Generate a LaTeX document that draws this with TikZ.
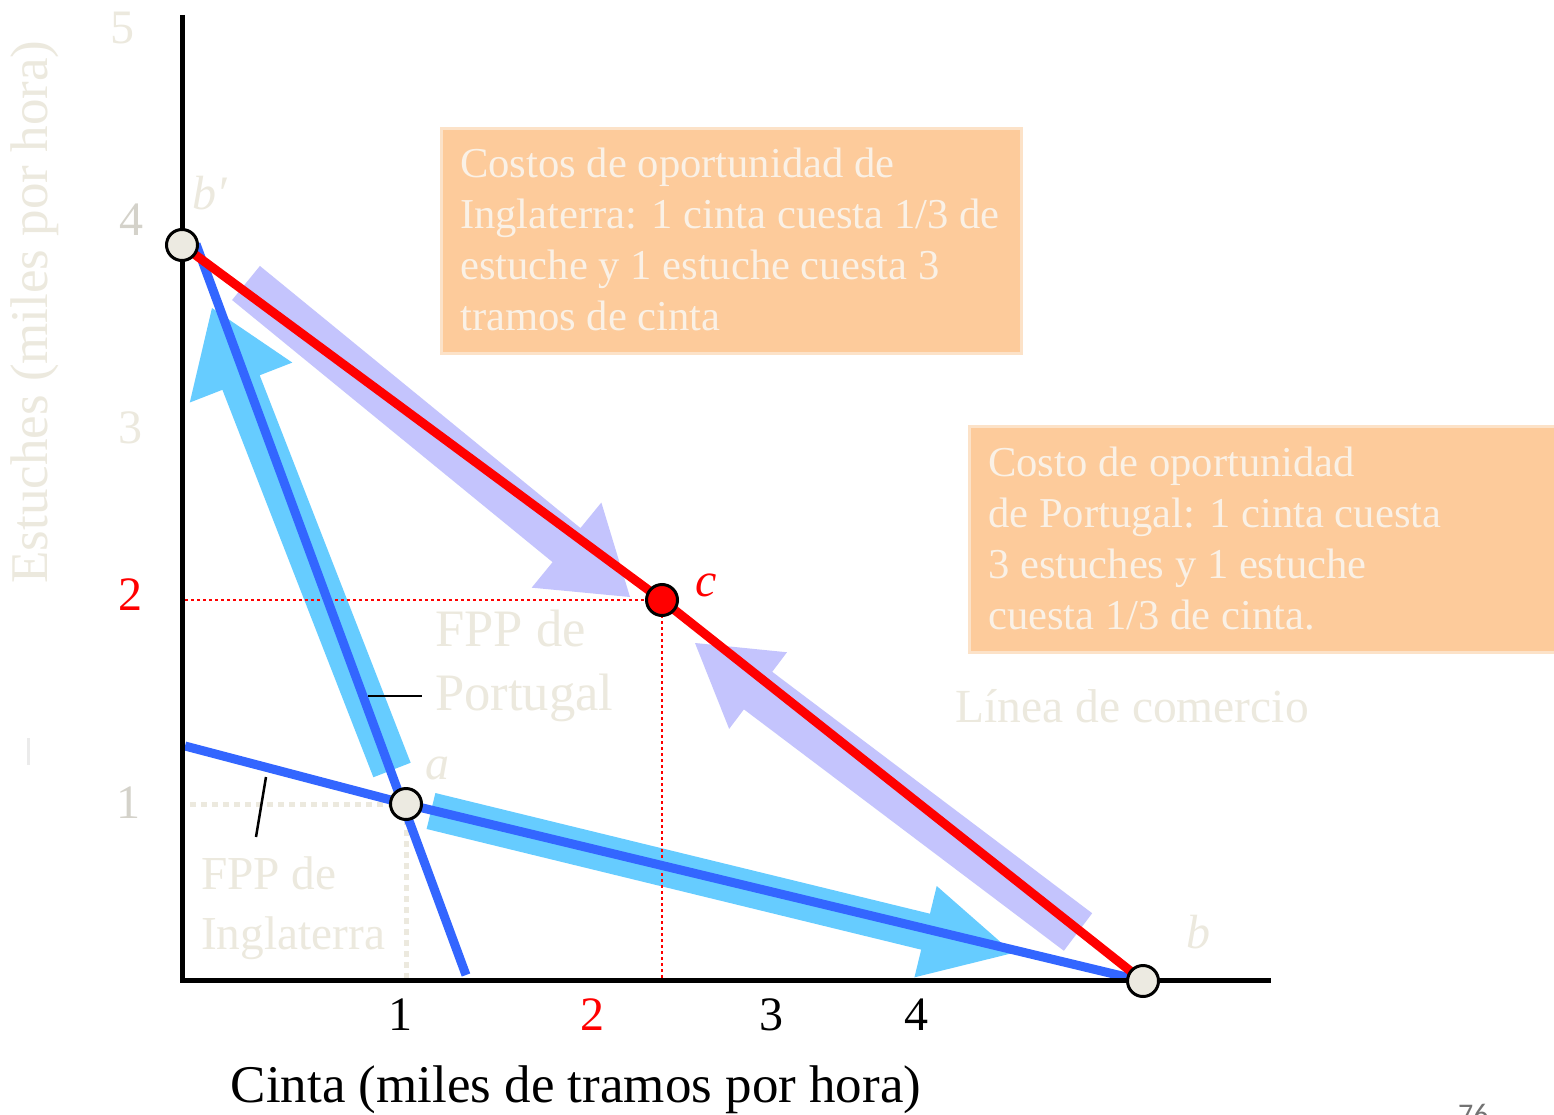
\documentclass[tikz,border=0pt]{standalone}
\usepackage{fontspec}
\setmainfont{Liberation Serif}
\newfontfamily\pagenumfont{Carlito}
\usetikzlibrary{calc}
\definecolor{beigetxt}{RGB}{236,233,222}
\definecolor{lbluearrow}{RGB}{102,204,255}
\definecolor{lavarrow}{RGB}{196,196,253}
\definecolor{fppblue}{RGB}{51,102,255}
\definecolor{peach}{RGB}{253,203,155}
\definecolor{peachedge}{RGB}{252,226,200}
\definecolor{boxtxt}{RGB}{250,241,230}
\definecolor{ptfill}{RGB}{236,234,225}
\definecolor{outlinegray}{RGB}{212,210,202}
\newcommand\fatarrowdraw[7]{% name, colour, tail, tip, half shaft, half head, head length
  \coordinate (#1B) at ($(#4)!#7!(#3)$);
  \fill[#2] ($(#3)!#5!90:(#4)$) -- ($(#1B)!#5!90:(#4)$) -- ($(#1B)!#6!90:(#4)$) -- (#4)
    -- ($(#1B)!#6!-90:(#4)$) -- ($(#1B)!#5!-90:(#4)$) -- ($(#3)!#5!-90:(#4)$) -- cycle;
}
\begin{document}
\begin{tikzpicture}[x=1pt,y=-1pt,
  axisline/.style={line width=5pt, black},
  fppline/.style={line width=9pt, fppblue},
  tradeline/.style={line width=9pt, red},
  pt/.style={circle, draw=black, line width=3pt, fill=ptfill, minimum size=31pt, inner sep=0pt},
  ptred/.style={pt, fill=red},
  reddot/.style={red, line width=2.5pt, dash pattern=on 2.5pt off 3.5pt},
  beigedot/.style={beigetxt, line width=5pt, dash pattern=on 6pt off 5pt},
  leader/.style={black, line width=2.5pt},
  costbox/.style={fill=peach, draw=peachedge, line width=3pt, inner sep=0pt, anchor=north west},
  boxtext/.style={text=boxtxt, font=\fontsize{42.6}{51}\selectfont, align=left, inner sep=0pt, anchor=north west},
  lbl/.style={text=beigetxt, inner sep=0pt},
  numfont/.style={font=\fontsize{48}{48}\selectfont, inner sep=0pt},
  letfont/.style={font=\fontsize{48}{48}\selectfont\itshape, inner sep=0pt}
]
\useasboundingbox (0,0) rectangle (1554,1115);
\fill[white] (0,0) rectangle (1554,1115);

% key coordinates
\coordinate (Pbp) at (182,245);
\coordinate (Pa) at (406,804);
\coordinate (Pb) at (1143,981);
\coordinate (Pc) at (662,600);
\coordinate (portTop) at (196,244);
\coordinate (portBot) at (466,975);
\coordinate (engLeft) at (185,746);
\coordinate (yTop) at (182,15);
\coordinate (yBot) at (182,983);
\coordinate (xLeft) at (180,980);
\coordinate (xRight) at (1271,980);

% cost boxes
\node[costbox, minimum width=580pt, minimum height=225pt] (box1) at (440,127) {};
\node[costbox, minimum width=590pt, minimum height=226pt] (box2) at (968,425) {};
\node[boxtext] (box1txt) at (460,148) {Costos de oportunidad de\\Inglaterra: 1 cinta cuesta 1/3 de\\estuche y 1 estuche cuesta 3\\tramos de cinta};
\node[boxtext] (box2txt) at (988,447) {Costo de oportunidad\\de Portugal: 1 cinta cuesta\\3 estuches y 1 estuche\\cuesta 1/3 de cinta.};

% fat arrows
\coordinate (A1t) at (392,770); \coordinate (A1h) at (212,308);
\coordinate (A2t) at (431,811); \coordinate (A2h) at (1013,953);
\coordinate (A3t) at (246,283); \coordinate (A3h) at (630,597);
\coordinate (A4t) at (1078,932); \coordinate (A4h) at (695,643);
\fatarrowdraw{arA}{lbluearrow}{A1t}{A1h}{20pt}{55pt}{80pt}
\fatarrowdraw{arB}{lbluearrow}{A2t}{A2h}{18.5pt}{47pt}{90pt}
\fatarrowdraw{arC}{lavarrow}{A3t}{A3h}{22pt}{55pt}{82pt}
\fatarrowdraw{arD}{lavarrow}{A4t}{A4h}{23.5pt}{48pt}{79pt}

% dotted guides
\coordinate (rdL) at (185,600); \coordinate (rdB) at (662,978);
\coordinate (bdL) at (190,804); \coordinate (bdB) at (406,978);
\draw[beigedot] (bdL) -- (Pa) -- (bdB);
\draw[reddot] (rdL) -- (Pc) -- (rdB);

% PPF and trade lines
\draw[fppline] (portTop) -- (portBot);
\draw[fppline] (engLeft) -- (Pa) -- (Pb);
\draw[tradeline] (Pbp) -- (Pc) -- (Pb);

% axes
\draw[axisline] (yTop) -- (yBot);
\draw[axisline] (xLeft) -- (xRight);

% points
\node[pt] (bp) at (Pbp) {};
\node[pt] (a) at (Pa) {};
\node[pt] (b) at (Pb) {};
\node[ptred] (c) at (Pc) {};

% leaders
\coordinate (ldP1) at (368,696); \coordinate (ldP2) at (422,696);
\coordinate (ldI1) at (266,777); \coordinate (ldI2) at (256,837);
\draw[leader] (ldP1) -- (ldP2);
\draw[leader] (ldI1) -- (ldI2);

% axis numbers
\node[lbl, numfont] (n5) at (122,28) {5};
\node[numfont, text=outlinegray] (n4) at (131,220) {4};
\node[lbl, numfont] (n3) at (130,428) {3};
\node[numfont, text=red] (n2) at (130,595) {2};
\node[numfont, text=outlinegray] (n1) at (128,803) {1};
\node[numfont] (t1) at (400,1015) {1};
\node[numfont, text=red] (t2) at (592,1015) {2};
\node[numfont] (t3) at (771,1015) {3};
\node[numfont] (t4) at (916,1015) {4};

% axis titles
\node[lbl, rotate=90, font=\fontsize{53}{53}\selectfont] (ylab) at (35,312) {Estuches (miles por hora)};
\node[font=\fontsize{53}{53}\selectfont, anchor=base, inner sep=0pt] (xlab) at (576,1102) {Cinta (miles de tramos por hora)};

% point letters
\node[lbl, letfont] (lbp) at (210,193) {b′};
\node[lbl, letfont] (la) at (437,768) {a};
\node[lbl, letfont] (lb) at (1198,932) {b};
\node[letfont, text=red] (lc) at (706,585) {c};

% curve labels
\node[lbl, font=\fontsize{52.6}{64}\selectfont, align=left, anchor=north west] (fppP) at (435,610) {FPP de\\Portugal};
\node[lbl, font=\fontsize{47.3}{60}\selectfont, align=left, anchor=north west] (fppI) at (201,856) {FPP de\\Inglaterra};
\node[lbl, font=\fontsize{47.5}{47.5}\selectfont] (trade) at (1132,706) {Línea de comercio};

% faint mark and page number
\draw[black!8, line width=3pt] (28,738) -- (28,765);
\node[font=\pagenumfont\fontsize{30}{30}\selectfont, text=black!55, anchor=base west, inner sep=0pt] (pg) at (1458,1124) {76};
\end{tikzpicture}
\end{document}
